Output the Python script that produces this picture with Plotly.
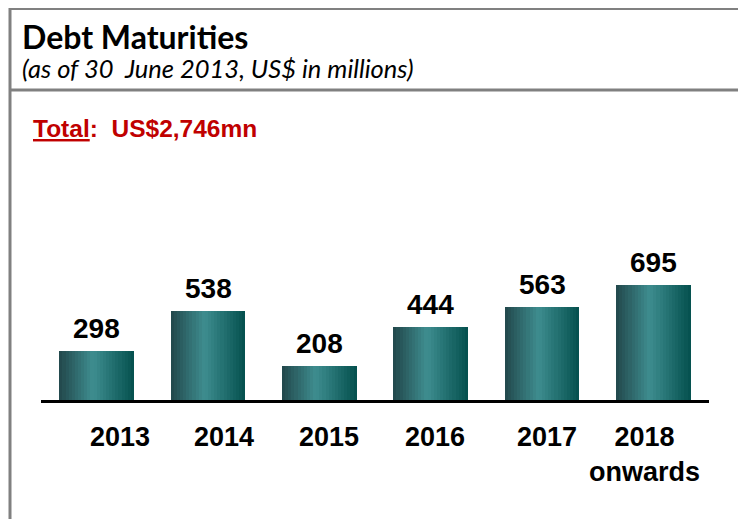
import plotly.graph_objects as go

# ---- data ----
categories = ["2013", "2014", "2015", "2016", "2017", "2018 onwards"]
tick_labels = ["2013", "2014", "2015", "2016", "2017", "2018<br>onwards"]
maturities = [298, 538, 208, 444, 563, 695]

title_text = "Debt Maturities"
subtitle_text = "(as of 30  June 2013, US$ in millions)"
total_text = "<u>Total</u>:  US$2,746mn"

# ---- style ----
OFF = 8  # page body margin
W, H = 746 - OFF, 519 - OFF


def px(x):
    return (x - OFF) / W


def py(y):
    return 1 - (y - OFF) / H


label_shift = [23, 16, 10, 4, 5, -9]
stops = [(0.0, (0x22, 0x47, 0x4b)), (0.45, (0x3e, 0x8d, 0x8f)), (1.0, (0x04, 0x50, 0x4e))]


def grad(t):
    for (t0, c0), (t1, c1) in zip(stops[:-1], stops[1:]):
        if t0 <= t <= t1:
            f = (t - t0) / (t1 - t0)
            c = [round(a + (b - a) * f) for a, b in zip(c0, c1)]
            return "rgb(%d,%d,%d)" % tuple(c)
    return "rgb(%d,%d,%d)" % stops[-1][1]


fig = go.Figure()
N = 24
bw = 0.67
sw = bw / N
for i in range(N):
    t = (i + 0.5) / N
    fig.add_trace(go.Bar(
        x=categories, y=maturities,
        width=sw * (1.08 if i < N - 1 else 1.0),
        offset=-bw / 2 + i * sw,
        marker=dict(color=grad(t), line=dict(width=0)),
        hoverinfo="skip", showlegend=False,
    ))

annotations = []
for i, v in enumerate(maturities):
    annotations.append(dict(
        x=i, y=v, xref="x", yref="y", text=f"<b>{v}</b>", showarrow=False,
        xanchor="center", yanchor="bottom", yshift=5,
        font=dict(family="Liberation Sans, Arial", size=28, color="black"),
    ))
for i, (lab, sh) in enumerate(zip(tick_labels, label_shift)):
    annotations.append(dict(
        x=i, y=py(420), xref="x", yref="paper", text=f"<b>{lab}</b>",
        showarrow=False, xanchor="center", yanchor="top", xshift=sh,
        font=dict(family="Liberation Sans, Arial", size=27, color="black"),
    ))
annotations += [
    dict(x=px(20), y=py(37), xref="paper", yref="paper", text=f"<b>{title_text}</b>",
         showarrow=False, xanchor="left", yanchor="middle",
         font=dict(family="Lato, Open Sans", size=32, color="black")),
    dict(x=px(20), y=py(68), xref="paper", yref="paper", text=f"<i>{subtitle_text}</i>",
         showarrow=False, xanchor="left", yanchor="middle",
         font=dict(family="Lato, Open Sans", size=25.5, color="black")),
    dict(x=px(31), y=py(129), xref="paper", yref="paper", text=f"<b>{total_text}</b>",
         showarrow=False, xanchor="left", yanchor="middle",
         font=dict(family="Liberation Sans, Arial", size=24.5, color="#C00000")),
]

gray = "#808080"
shapes = [
    dict(type="line", xref="paper", yref="paper", x0=px(10), x1=1, y0=py(8.5), y1=py(8.5),
         line=dict(color=gray, width=3)),
    dict(type="line", xref="paper", yref="paper", x0=px(10), x1=px(10), y0=py(8), y1=0,
         line=dict(color=gray, width=3)),
    dict(type="line", xref="paper", yref="paper", x0=px(10), x1=1, y0=py(90), y1=py(90),
         line=dict(color=gray, width=3)),
]

fig.update_layout(
    width=W, height=H,
    margin=dict(l=0, r=0, t=0, b=0),
    paper_bgcolor="white", plot_bgcolor="white",
    barmode="overlay", bargap=0,
    xaxis=dict(domain=[px(41), px(709)], range=[-0.5, 5.5], type="category",
               showticklabels=False, showgrid=False, zeroline=False,
               showline=True, linecolor="black", linewidth=3, ticks=""),
    yaxis=dict(domain=[py(400), py(150)], range=[0, 250 / 0.1655],
               visible=False, showgrid=False, zeroline=False),
    annotations=annotations, shapes=shapes,
)

fig.write_html("out.html")
